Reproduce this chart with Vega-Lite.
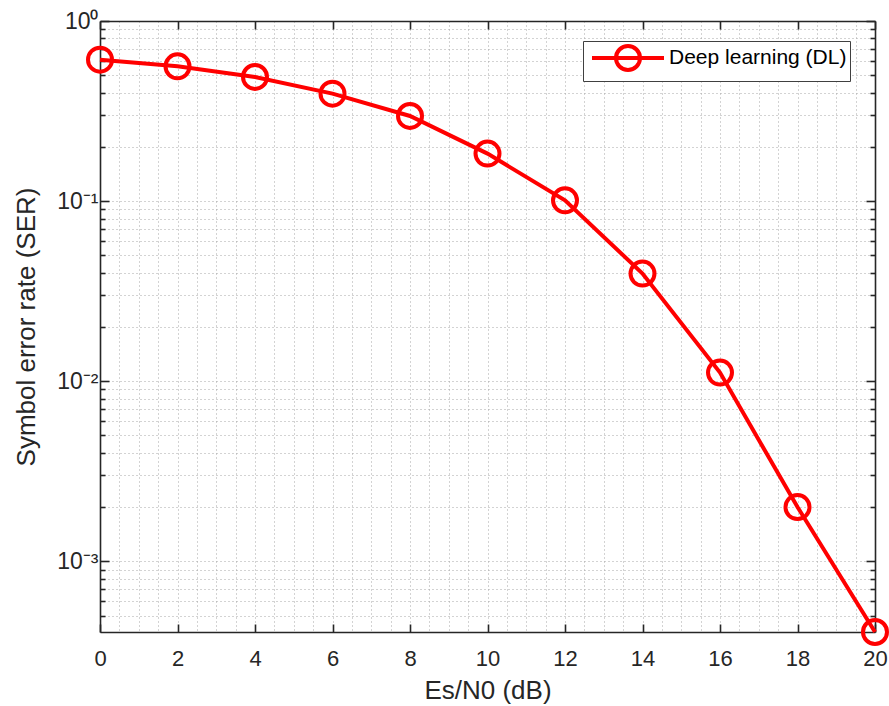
{
  "$schema": "https://vega.github.io/schema/vega-lite/v6.json",
  "width": 775,
  "height": 611,
  "autosize": "none",
  "padding": {"left": 100, "top": 21, "right": 14, "bottom": 74},
  "background": "white",
  "config": {
    "view": {"stroke": null},
    "font": "Liberation Sans",
    "axis": {
      "domainColor": "#262626",
      "domainWidth": 1.6,
      "tickColor": "#262626",
      "tickWidth": 1.6,
      "labelColor": "#262626",
      "titleColor": "#262626",
      "labelFont": "Liberation Sans",
      "titleFont": "Liberation Sans",
      "titleFontWeight": "normal",
      "labelFlush": false,
      "labelOverlap": false,
      "offset": 0
    }
  },
  "data": {
    "values": [
      {"snr": 0, "ser": 0.61, "series": "Deep learning (DL)"},
      {"snr": 2, "ser": 0.56, "series": "Deep learning (DL)"},
      {"snr": 4, "ser": 0.489, "series": "Deep learning (DL)"},
      {"snr": 6, "ser": 0.395, "series": "Deep learning (DL)"},
      {"snr": 8, "ser": 0.297, "series": "Deep learning (DL)"},
      {"snr": 10, "ser": 0.1835, "series": "Deep learning (DL)"},
      {"snr": 12, "ser": 0.101, "series": "Deep learning (DL)"},
      {"snr": 14, "ser": 0.0396, "series": "Deep learning (DL)"},
      {"snr": 16, "ser": 0.01116, "series": "Deep learning (DL)"},
      {"snr": 18, "ser": 0.002, "series": "Deep learning (DL)"},
      {"snr": 20, "ser": 0.000405, "series": "Deep learning (DL)"}
    ]
  },
  "layer": [
    {
      "mark": {"type": "point", "opacity": 0},
      "encoding": {
        "x": {"field": "snr", "type": "quantitative", "scale": {"domain": [0, 20]},
          "axis": {"orient": "bottom", "values": [0,0.5,1,1.5,2,2.5,3,3.5,4,4.5,5,5.5,6,6.5,7,7.5,8,8.5,9,9.5,10,10.5,11,11.5,12,12.5,13,13.5,14,14.5,15,15.5,16,16.5,17,17.5,18,18.5,19,19.5,20],
            "grid": true, "gridColor": "#a6a6a6", "gridDash": [1, 3], "gridWidth": 1, "ticks": false, "labels": false, "domain": false, "title": null}},
        "y": {"field": "ser", "type": "quantitative", "scale": {"type": "log", "domain": [0.000405, 1]},
          "axis": {"orient": "left", "values": [0.0005,0.0006,0.0007,0.0008,0.0009,0.001,0.002,0.003,0.004,0.005,0.006,0.007,0.008,0.009,0.01,0.02,0.03,0.04,0.05,0.06,0.07,0.08,0.09,0.1,0.2,0.3,0.4,0.5,0.6,0.7,0.8,0.9,1],
            "grid": true, "gridColor": "#a6a6a6", "gridDash": [1, 3], "gridWidth": 1, "ticks": false, "labels": false, "domain": false, "title": null}}
      }
    },
    {
      "mark": {"type": "point", "opacity": 0},
      "encoding": {
        "x": {"field": "snr", "type": "quantitative", "scale": {"domain": [0, 20]},
          "axis": {"orient": "top", "values": [0,2,4,6,8,10,12,14,16,18,20], "grid": false, "ticks": true, "tickSize": -8, "labels": false, "domain": true, "title": null}},
        "y": {"field": "ser", "type": "quantitative", "scale": {"type": "log", "domain": [0.000405, 1]},
          "axis": {"orient": "left", "values": [0.0005,0.0006,0.0007,0.0008,0.0009,0.002,0.003,0.004,0.005,0.006,0.007,0.008,0.009,0.02,0.03,0.04,0.05,0.06,0.07,0.08,0.09,0.2,0.3,0.4,0.5,0.6,0.7,0.8,0.9],
            "grid": false, "ticks": true, "tickSize": -5, "labels": false, "domain": false, "title": null}}
      }
    },
    {
      "mark": {"type": "point", "opacity": 0},
      "encoding": {
        "x": {"field": "snr", "type": "quantitative", "scale": {"domain": [0, 20]}, "axis": null},
        "y": {"field": "ser", "type": "quantitative", "scale": {"type": "log", "domain": [0.000405, 1]},
          "axis": {"orient": "right", "values": [0.0005,0.0006,0.0007,0.0008,0.0009,0.002,0.003,0.004,0.005,0.006,0.007,0.008,0.009,0.02,0.03,0.04,0.05,0.06,0.07,0.08,0.09,0.2,0.3,0.4,0.5,0.6,0.7,0.8,0.9],
            "grid": false, "ticks": true, "tickSize": -5, "labels": false, "domain": true, "title": null}}
      }
    },
    {
      "mark": {"type": "point", "opacity": 0},
      "encoding": {
        "x": {"field": "snr", "type": "quantitative", "scale": {"domain": [0, 20]}, "axis": null},
        "y": {"field": "ser", "type": "quantitative", "scale": {"type": "log", "domain": [0.000405, 1]},
          "axis": {"orient": "right", "values": [0.001, 0.01, 0.1, 1],
            "grid": false, "ticks": true, "tickSize": -9, "labels": false, "domain": false, "title": null}}
      }
    },
    {
      "mark": {"type": "line", "strokeWidth": 4},
      "encoding": {
        "x": {"field": "snr", "type": "quantitative", "scale": {"domain": [0, 20]},
          "axis": {"orient": "bottom", "values": [0,2,4,6,8,10,12,14,16,18,20], "grid": false, "ticks": true, "tickSize": -8, "labels": true, "labelFontSize": 22, "labelPadding": 24, "domain": true,
            "title": "Es/N0 (dB)", "titleFontSize": 26, "titlePadding": 8}},
        "y": {"field": "ser", "type": "quantitative", "scale": {"type": "log", "domain": [0.000405, 1]},
          "axis": {"orient": "left", "values": [0.001, 0.01, 0.1, 1], "grid": false, "ticks": true, "tickSize": -9, "labels": true, "labelFontSize": 23, "labelPadding": 11, "domain": true,
            "labelExpr": "datum.value > 0.5 ? '10⁰' : datum.value > 0.05 ? '10⁻¹' : datum.value > 0.005 ? '10⁻²' : '10⁻³'",
            "title": "Symbol error rate (SER)", "titleFontSize": 26, "titlePadding": 17}},
        "color": {"field": "series", "type": "nominal", "scale": {"range": ["#ff0000"]},
          "legend": {"orient": "none", "legendX": 483, "legendY": 20, "title": null,
            "strokeColor": "#404040", "fillColor": "white", "padding": 3,
            "symbolType": "M-3,0L3,0M1,0A1,1,0,1,1,-1,0A1,1,0,1,1,1,0",
            "symbolSize": 576, "symbolStrokeWidth": 4, "symbolStrokeColor": "#ff0000", "symbolFillColor": "transparent",
            "symbolOffset": 28, "labelOffset": 27, "labelFontSize": 21, "labelLimit": 400, "labelFont": "Liberation Sans", "labelColor": "#000000"}}
      }
    },
    {
      "mark": {"type": "point", "filled": false, "strokeWidth": 4, "size": 576, "shape": "circle", "opacity": 1},
      "encoding": {
        "x": {"field": "snr", "type": "quantitative", "scale": {"domain": [0, 20]}, "axis": null},
        "y": {"field": "ser", "type": "quantitative", "scale": {"type": "log", "domain": [0.000405, 1]}, "axis": null},
        "color": {"field": "series", "type": "nominal", "scale": {"range": ["#ff0000"]}}
      }
    }
  ],
  "resolve": {"axis": {"x": "independent", "y": "independent"}}
}
